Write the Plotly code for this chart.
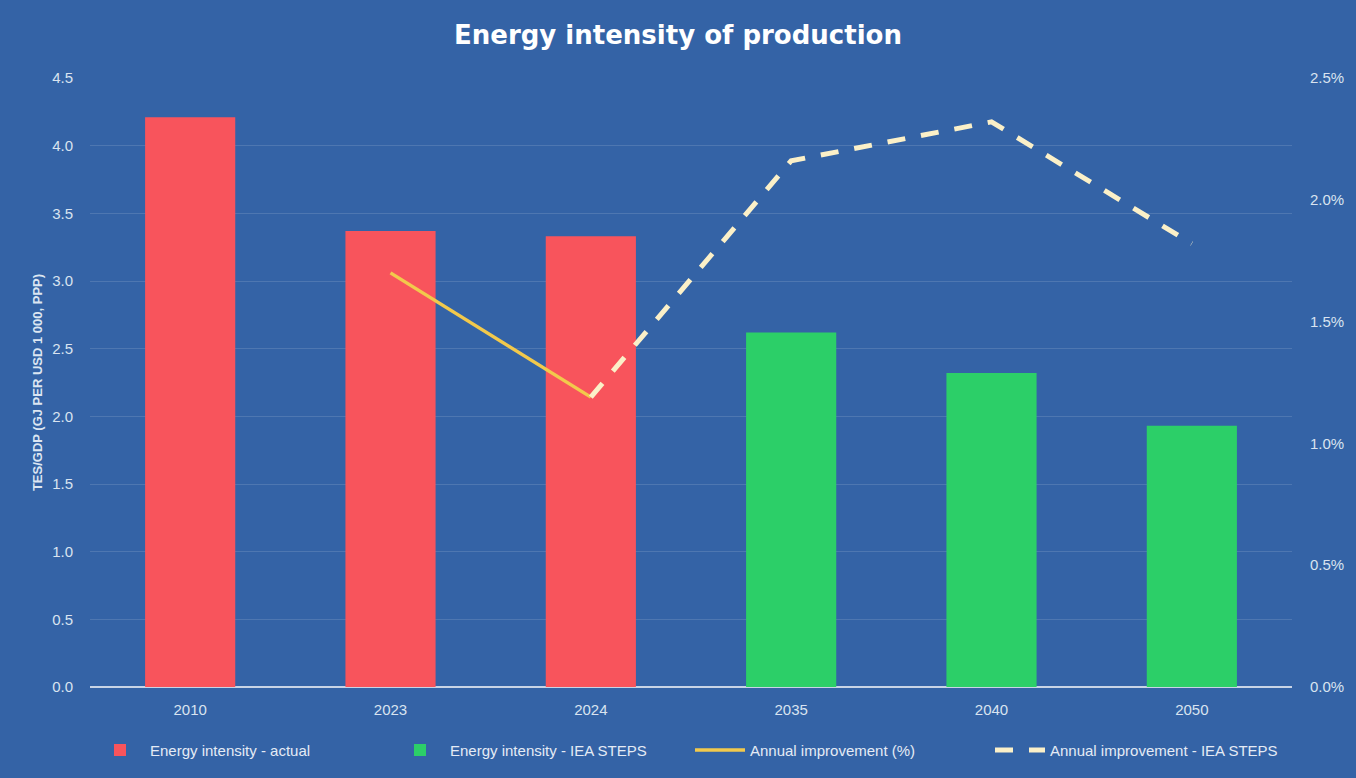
import plotly.graph_objects as go

years = ["2010", "2023", "2024", "2035", "2040", "2050"]
intensity_actual = [4.21, 3.37, 3.33, None, None, None]
intensity_steps = [None, None, None, 2.62, 2.32, 1.93]
improvement_actual = [None, 0.0170, 0.0119, None, None, None]
improvement_steps = [None, None, 0.0119, 0.0216, 0.0232, 0.0182]

fig = go.Figure()
fig.add_trace(go.Bar(x=years, y=intensity_actual, name="Energy intensity - actual",
                     marker=dict(color="#f8545c", line=dict(width=0)), width=0.45))
fig.add_trace(go.Bar(x=years, y=intensity_steps, name="Energy intensity - IEA STEPS",
                     marker=dict(color="#2ccf68", line=dict(width=0)), width=0.45))
fig.add_trace(go.Scatter(x=years, y=improvement_actual, name="Annual improvement (%)",
                         mode="lines", line=dict(color="#f2c94c", width=3.5),
                         yaxis="y2", connectgaps=False))
fig.add_trace(go.Scatter(x=years, y=improvement_steps, name="Annual improvement - IEA STEPS",
                         mode="lines", line=dict(color="#fbf0c8", width=5, dash="18px,16px"),
                         yaxis="y2", connectgaps=False))

tickfont = dict(family="Liberation Sans, Arial, sans-serif", size=15, color="#d9e3f0")

fig.update_layout(
    width=1356, height=778,
    paper_bgcolor="#3463a6", plot_bgcolor="rgba(0,0,0,0)",
    margin=dict(l=90, r=64, t=78, b=90),
    barmode="overlay",
    title=dict(text="<b>Energy intensity of production</b>", x=0.5, xanchor="center",
               y=0.955, yanchor="middle",
               font=dict(family="DejaVu Sans, sans-serif", size=26, color="#ffffff")),
    xaxis=dict(type="category", tickfont=tickfont, showgrid=False, ticks="",
               showline=False, zeroline=False, ticklabelstandoff=12),
    yaxis=dict(range=[0, 4.5], dtick=0.5, tickformat=".1f", tickfont=tickfont,
               gridcolor="rgba(255,255,255,0.13)", gridwidth=1,
               zeroline=True, zerolinecolor="#c8d4e6", zerolinewidth=1.5,
               showline=False, ticklabelstandoff=16,
               title=dict(text="<b>TES/GDP (GJ PER USD 1 000, PPP)</b>", standoff=6,
                          font=dict(family="Liberation Sans, Arial, sans-serif", size=13, color="#dce6f2"))),
    yaxis2=dict(range=[0, 0.025], dtick=0.005, tickformat=".1%", overlaying="y", side="right",
                showgrid=False, zeroline=False, tickfont=tickfont, ticklabelstandoff=17),
    legend=dict(orientation="h", x=0.0, xanchor="left", y=-0.102, yanchor="middle",
                font=dict(family="Liberation Sans, sans-serif", size=15, color="#e4ebf5"),
                bgcolor="rgba(0,0,0,0)", itemwidth=50, tracegroupgap=0,
                entrywidth=235, entrywidthmode="pixels"),
    showlegend=True,
)

fig.write_html("out.html")
